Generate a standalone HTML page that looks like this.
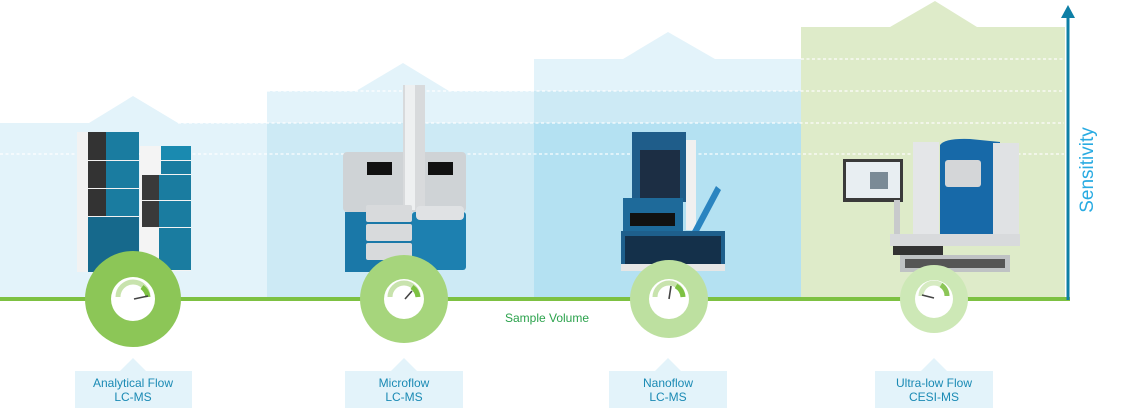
<!DOCTYPE html>
<html><head><meta charset="utf-8"><style>
html,body{margin:0;padding:0;background:#fff;}
svg{display:block;font-family:"Liberation Sans",sans-serif;}
</style></head><body>
<svg width="1140" height="408" viewBox="0 0 1140 408" xmlns="http://www.w3.org/2000/svg">
<!-- bands -->
<polygon points="0,123 89,123 133,96 178,123 267,123 267,299 0,299" fill="#e3f3fa"/>
<polygon points="267,91 356,91 403,63 449,91 534,91 534,299 267,299" fill="#e3f3fa"/>
<rect x="267" y="123" width="267" height="176" fill="#cdeaf5"/>
<polygon points="534,59 623,59 668,32 715,59 801,59 801,299 534,299" fill="#e3f3fa"/>
<rect x="534" y="91" width="267" height="208" fill="#cdeaf5"/>
<rect x="534" y="123" width="267" height="176" fill="#b4e1f2"/>
<polygon points="801,27 890,27 935,1 977,27 1065,27 1065,299 801,299" fill="#deebc9"/>
<!-- dashed lines -->
<g stroke="#fff" stroke-width="1.2" stroke-dasharray="3,2.5" opacity="0.95">
<line x1="801" y1="59" x2="1064" y2="59"/>
<line x1="267" y1="91" x2="1064" y2="91"/>
<line x1="178" y1="123" x2="1064" y2="123"/>
<line x1="0" y1="154" x2="1064" y2="154"/>
</g>
<!-- machine 1 -->
<g>
<rect x="77" y="132" width="62" height="140" fill="#f2f2f2"/>
<rect x="88" y="132" width="51" height="28" fill="#1a7ca0"/><rect x="88" y="132" width="18" height="28" fill="#333"/>
<rect x="88" y="161" width="51" height="27" fill="#1a7ca0"/><rect x="88" y="161" width="18" height="27" fill="#333"/>
<rect x="88" y="189" width="51" height="27" fill="#1a7ca0"/><rect x="88" y="189" width="18" height="27" fill="#333"/>
<rect x="88" y="217" width="51" height="55" fill="#16698c"/>
<rect x="140" y="146" width="51" height="125" fill="#f4f4f4"/>
<rect x="161" y="146" width="30" height="14" fill="#1a8ab0"/>
<rect x="161" y="161" width="30" height="13" fill="#1a7ca0"/>
<rect x="142" y="175" width="49" height="25" fill="#1a7ca0"/><rect x="142" y="175" width="17" height="25" fill="#3a3a3a"/>
<rect x="142" y="201" width="49" height="26" fill="#1a7ca0"/><rect x="142" y="201" width="17" height="26" fill="#3a3a3a"/>
<rect x="142" y="228" width="49" height="42" fill="#1a7ca0"/><rect x="142" y="228" width="17" height="42" fill="#f4f4f4"/>
</g>
<!-- machine 2 -->
<g>
<rect x="343" y="152" width="123" height="60" rx="4" fill="#cfd3d6"/>
<rect x="367" y="162" width="25" height="13" fill="#111"/><rect x="428" y="162" width="25" height="13" fill="#111"/>
<rect x="403" y="85" width="22" height="125" fill="#d8dadc"/><rect x="405" y="85" width="10" height="125" fill="#eef0f1"/>
<rect x="345" y="212" width="67" height="60" fill="#1a78a8"/>
<rect x="366" y="205" width="46" height="17" rx="2" fill="#d8dadc"/>
<rect x="366" y="224" width="46" height="17" rx="2" fill="#d8dadc"/>
<rect x="366" y="243" width="46" height="17" rx="2" fill="#d8dadc"/>
<rect x="412" y="212" width="54" height="58" rx="3" fill="#1d80b0"/>
<rect x="416" y="206" width="48" height="14" rx="4" fill="#e0e2e4"/>
</g>
<!-- machine 3 -->
<g>
<rect x="632" y="132" width="54" height="70" fill="#1f5d8a"/>
<rect x="640" y="150" width="40" height="52" fill="#1c2e44"/>
<rect x="686" y="140" width="10" height="90" fill="#f0f0f0"/>
<rect x="623" y="198" width="60" height="33" fill="#1e6a9a"/>
<rect x="630" y="213" width="45" height="13" fill="#111"/>
<polygon points="690,235 716,186 721,190 695,239" fill="#2a84c0"/>
<rect x="621" y="231" width="104" height="40" fill="#1e5f8c"/>
<rect x="625" y="236" width="96" height="28" fill="#14304a"/>
<rect x="621" y="264" width="104" height="7" fill="#e6e6e6"/>
</g>
<!-- machine 4 -->
<g>
<rect x="843" y="159" width="60" height="43" fill="#3a3a3a"/>
<rect x="846" y="162" width="54" height="36" fill="#e8eef2"/>
<rect x="870" y="172" width="18" height="17" fill="#7a8a96"/>
<rect x="894" y="200" width="6" height="40" fill="#c8cacc"/>
<rect x="913" y="142" width="26" height="102" fill="#e4e6e8"/>
<path d="M940 145 Q945 138 970 139 L1000 142 L1000 240 L940 240 Z" fill="#1769a8"/>
<rect x="945" y="160" width="36" height="27" rx="3" fill="#d4d6d8"/>
<rect x="993" y="143" width="26" height="100" fill="#e0e2e4"/>
<rect x="890" y="234" width="130" height="12" fill="#d8dadc"/>
<rect x="893" y="246" width="50" height="9" fill="#333"/>
<rect x="900" y="255" width="110" height="17" fill="#bfc2c4"/>
<rect x="905" y="259" width="100" height="9" fill="#555"/>
</g>
<!-- green axis -->
<rect x="0" y="297" width="1070" height="4" fill="#7dc142"/>
<!-- circles -->
<circle cx="133" cy="299" r="48" fill="#8cc657"/><circle cx="133" cy="299" r="22" fill="#fff"/>
<circle cx="404" cy="299" r="44" fill="#a6d57c"/><circle cx="404" cy="299" r="20" fill="#fff"/>
<circle cx="669" cy="299" r="39" fill="#bde0a0"/><circle cx="669" cy="299" r="20" fill="#fff"/>
<circle cx="934" cy="299" r="34" fill="#cde8b6"/><circle cx="934" cy="299" r="19" fill="#fff"/>
<!-- gauges -->
<g fill="none" stroke-width="5">
<path d="M118 297 A15 15 0 0 1 148 297" stroke="#c8e3ad"/>
<path d="M142 287 A15 15 0 0 1 148 297" stroke="#7dc142"/>
<path d="M390 297 A14 14 0 0 1 418 297" stroke="#c8e3ad"/>
<path d="M412 287 A14 14 0 0 1 418 297" stroke="#7dc142"/>
<path d="M655 297 A14 14 0 0 1 683 297" stroke="#c8e3ad"/>
<path d="M676 286 A14 14 0 0 1 683 297" stroke="#7dc142"/>
<path d="M921 296 A13 13 0 0 1 947 296" stroke="#d6ebc2"/>
<path d="M941 285 A13 13 0 0 1 947 296" stroke="#8cc657"/>
</g>
<g stroke="#444" stroke-width="1.6">
<line x1="134" y1="299" x2="148" y2="296"/><line x1="405" y1="299" x2="412" y2="291"/>
<line x1="669" y1="299" x2="671" y2="286"/><line x1="934" y1="298" x2="922" y2="295"/>
</g>
<!-- sensitivity arrow -->
<rect x="1066.5" y="14" width="3" height="286" fill="#0e7fa6"/>
<polygon points="1068,5 1075,18 1061,18" fill="#0e7fa6"/>
<text x="1093" y="170" transform="rotate(-90 1093 170)" text-anchor="middle" font-size="19" fill="#29abe2">Sensitivity</text>
<text x="547" y="322" text-anchor="middle" font-size="12" fill="#2ba24c">Sample Volume</text>
<!-- labels -->
<g fill="#e3f3fa">
<polygon points="75,371 120,371 133,358 146,371 192,371 192,408 75,408"/>
<polygon points="345,371 391,371 404,358 417,371 463,371 463,408 345,408"/>
<polygon points="609,371 655,371 668,358 681,371 727,371 727,408 609,408"/>
<polygon points="875,371 921,371 934,358 947,371 993,371 993,408 875,408"/>
</g>
<g font-size="12" fill="#1a8ab4" text-anchor="middle">
<text x="133" y="387">Analytical Flow</text><text x="133" y="401">LC-MS</text>
<text x="404" y="387">Microflow</text><text x="404" y="401">LC-MS</text>
<text x="668" y="387">Nanoflow</text><text x="668" y="401">LC-MS</text>
<text x="934" y="387">Ultra-low Flow</text><text x="934" y="401">CESI-MS</text>
</g>
</svg>
</body></html>
